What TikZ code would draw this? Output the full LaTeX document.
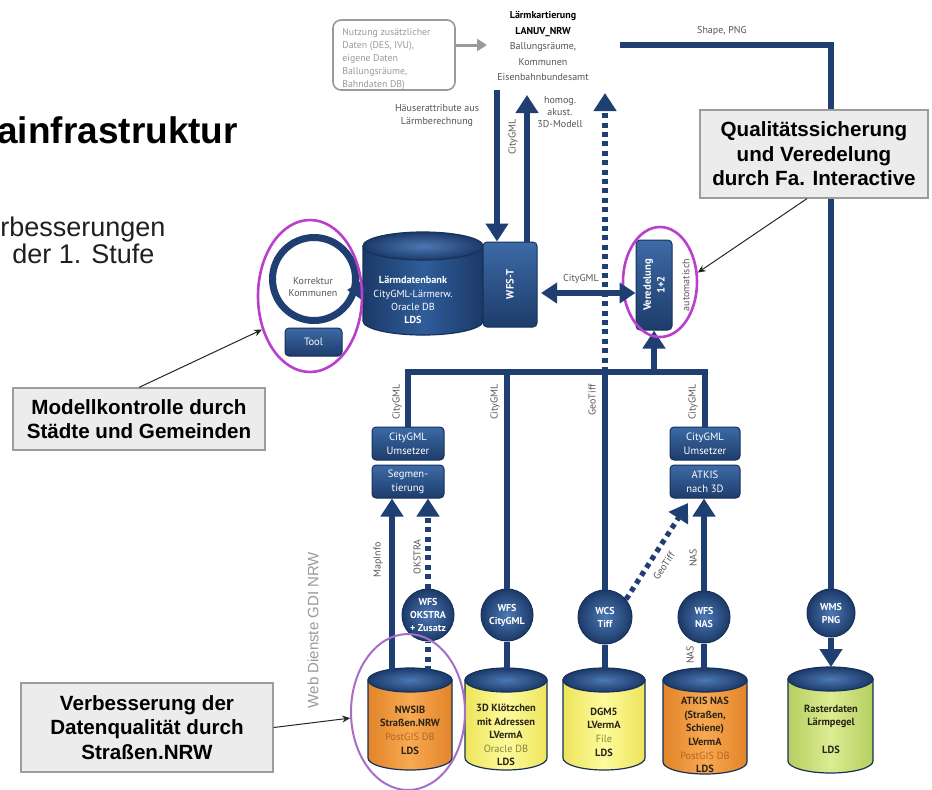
\documentclass[tikz,border=0pt]{standalone}
\usepackage{fontspec}
\setmainfont{Liberation Sans}
\newfontfamily\dfont{PT Sans}
\usetikzlibrary{arrows.meta,shapes.geometric}
\definecolor{lineblue}{HTML}{1F3F73}
\definecolor{boxtop}{HTML}{3D6AA6}
\definecolor{boxbot}{HTML}{1D3C6B}
\definecolor{boxline}{HTML}{17315A}
\definecolor{discin}{HTML}{4C78B4}
\definecolor{discout}{HTML}{1C3A69}
\definecolor{magC}{HTML}{B93FCC}
\definecolor{magL}{HTML}{A56FC6}
\definecolor{callfill}{HTML}{ECECEC}
\definecolor{callline}{HTML}{9C9C9C}
\definecolor{lblgrey}{HTML}{555555}
\definecolor{lightgrey}{HTML}{9A9A9A}
\definecolor{orS}{HTML}{E2842A}
\definecolor{orM}{HTML}{F8A951}
\definecolor{yeS}{HTML}{EDE45A}
\definecolor{yeM}{HTML}{FDFB9E}
\definecolor{grS}{HTML}{B5CE60}
\definecolor{grM}{HTML}{DCEC92}
\definecolor{dbS}{HTML}{1C3967}
\definecolor{dbM}{HTML}{2F5D9A}
\definecolor{postgis}{HTML}{B5661F}
\definecolor{olivec}{HTML}{85853A}
\definecolor{cyltext}{HTML}{2A2418}
\newcommand\dbcyl[7]{%
  \path[left color=#6, right color=#6, middle color=#7, draw=boxline, line width=0.6pt]
    (#1-#4,#2+#5) -- (#1-#4,#3-#5) arc[start angle=180,end angle=0,x radius=#4,y radius=#5] -- (#1+#4,#2+#5) -- cycle;
  \path[inner color=discin, outer color=discout, draw=boxline, line width=0.6pt]
    (#1,#2+#5) ellipse[x radius=#4, y radius=#5];
}
\begin{document}
\begin{tikzpicture}[x=0.5pt,y=-0.5pt,
  bl/.style={draw=lineblue, line width=2.6pt},
  dotl/.style={draw=lineblue, line width=2.6pt, dash pattern=on 2.5pt off 2.2pt},
  bigtip/.style={-{Triangle[width=11pt,length=9pt]}},
  bbox/.style={rounded corners=2pt, top color=boxtop, bottom color=boxbot, draw=boxline, line width=0.5pt, text=white, inner sep=0pt, align=center, font=\dfont\fontsize{5.3}{7}\selectfont},
  disc/.style={circle, inner color=discin, outer color=discout, draw=boxline, line width=0.5pt, text=white, inner sep=0pt, align=center, font=\dfont\bfseries\fontsize{5}{6.5}\selectfont},
  callout/.style={draw=callline, fill=callfill, line width=0.6pt, align=center, inner sep=0pt, font=\bfseries\fontsize{10.3}{12.2}\selectfont},
  callarrow/.style={draw=black!85, line width=0.5pt, -{Stealth[length=4pt,width=3.5pt]}},
  lbl/.style={font=\dfont\fontsize{5}{6}\selectfont, text=lblgrey, inner sep=0pt},
  rlbl/.style={lbl, rotate=90},
  cyltxt/.style={font=\dfont\bfseries\fontsize{5.2}{6.8}\selectfont, text=cyltext, align=center, inner sep=0pt},
  magring/.style={ellipse, draw=magC, line width=1.3pt, inner sep=0pt}
]
\useasboundingbox (0,0) rectangle (932,789);
\fill[white] (0,0) rectangle (932,789);

% slide text
\node[anchor=base west, inner sep=0, font=\bfseries\fontsize{18.5}{22}\selectfont] (title) at (-3,143) {ainfrastruktur};
\node[anchor=base west, inner sep=0, text=black!88, font=\fontsize{13.5}{16}\selectfont] (sub1) at (0,236) {rbesserungen};
\node[anchor=base west, inner sep=0, text=black!88, font=\fontsize{13.5}{16}\selectfont] (sub2) at (12,263) {der 1. Stufe};

% top grey box
\node[draw=lightgrey, line width=0.8pt, rounded corners=4pt, minimum width=61pt, minimum height=35pt, inner sep=0] (greybox) at (394,55) {};
\node[anchor=west, align=left, inner sep=0, text=lightgrey, font=\dfont\fontsize{4.9}{6.5}\selectfont] (greytxt) at (342,59) {Nutzung zusätzlicher\\Daten (DES, IVU),\\eigene Daten\\Ballungsräume,\\Bahndaten DB)};
\coordinate (kartL) at (487,45);
\draw[draw=lightgrey, line width=1.5pt, -{Triangle[width=6pt,length=5pt]}] ([yshift=5pt]greybox.east) -- (kartL);

% Laermkartierung
\node[font=\dfont\fontsize{5}{7.75}\selectfont, align=center, text=lblgrey, inner sep=0] (kart) at (543,46) {\textbf{\color{black}Lärmkartierung}\\\textbf{\color{black}LANUV\_NRW}\\Ballungsräume,\\Kommunen\\Eisenbahnbundesamt};

% Shape, PNG line and WMS
\coordinate (shapeL) at (620,45);
\coordinate (shapeC) at (831,45);
\node[lbl] (shapelbl) at (722,31) {Shape, PNG};
\node[disc, minimum size=24pt] (wms) at (831,613) {WMS\\PNG};
\draw[bl] (shapeL) -- (shapeC) -- (wms.north);

% Laermdatenbank
\dbcyl{423}{232}{335}{60}{14}{dbS}{dbM}
\node[font=\dfont\fontsize{5.1}{6.6}\selectfont, text=white, align=center, inner sep=0] (ldb) at (413,300) {\textbf{Lärmdatenbank}\\CityGML-Lärmerw.\\Oracle DB\\\textbf{LDS}};

% WFS-T
\node[bbox, minimum width=27pt, minimum height=42.5pt] (wfst) at (510,284.5) {};
\node[rotate=90, text=white, font=\dfont\bfseries\fontsize{5.3}{6}\selectfont, inner sep=0] (wfstT) at (wfst.center) {WFS-T};

% Korrektur ring
\node[circle, draw=lineblue, line width=3.5pt, minimum size=41.5pt, inner sep=0] (ring) at (314,279) {};
\node[align=center, inner sep=0, text=lblgrey, font=\dfont\fontsize{5}{6.3}\selectfont] (ringT) at (313,287) {Korrektur\\Kommunen};
\coordinate (ldbW) at (366,290);
\coordinate (ringE) at (347,290);
\draw[bl, -{Triangle[width=10pt,length=8pt]}] (ldbW) -- (ringE);
\node[bbox, minimum width=28.5pt, minimum height=14pt] (tool) at (313.5,342) {Tool};
\node[magring, minimum width=52pt, minimum height=76pt] (mag1) at (310,296) {};

% arrows between Laermkartierung and WFS-T
\coordinate (kartB) at (497,90);
\draw[bl,bigtip] (kartB) -- (kartB |- wfst.north);
\coordinate (upT) at (527,95);
\draw[bl,bigtip] (upT |- wfst.north) -- (upT);
\node[rlbl] (cgml0) at (513,137) {CityGML};
\node[lbl, align=center, font=\dfont\fontsize{5}{6.5}\selectfont] (haeuser) at (437,116) {Häuserattribute aus\\Lärmberechnung};
\node[lbl, align=center] (homog) at (560,112) {homog.\\akust.\\3D-Modell};

% Veredelung
\node[bbox, minimum width=18pt, minimum height=45pt] (vered) at (654,285) {};
\node[rotate=90, text=white, font=\dfont\bfseries\fontsize{5.3}{6.8}\selectfont, align=center, inner sep=0] (veredT) at (vered.center) {Veredelung\\1+2};
\node[rlbl] (autom) at (686,285) {automatisch};

% converter boxes
\node[bbox, minimum width=36pt, minimum height=16.5pt] (cu1) at (408,443.5) {CityGML\\Umsetzer};
\node[bbox, minimum width=36pt, minimum height=16.5pt] (seg) at (408,481.5) {Segmen-\\tierung};
\node[bbox, minimum width=35pt, minimum height=16.5pt] (cu2) at (705,443.5) {CityGML\\Umsetzer};
\node[bbox, minimum width=35pt, minimum height=16.5pt] (atk3d) at (705,481.5) {ATKIS\\nach 3D};

% bus
\coordinate (busL) at (408,372);
\coordinate (busR) at (705,372);
\coordinate (busV) at (654,372);
\coordinate (busD) at (605,372);
\draw[bl, line width=3pt] (cu1.north) -- (busL) -- (busR) -- (cu2.north);
\draw[bl,bigtip] (busV) -- (busV |- vered.south);
\node[magring, minimum width=37pt, minimum height=55pt] (mag2) at (660,282) {};

% double arrow
\coordinate (dblL) at (541,293);
\draw[bl, {Triangle[width=10pt,length=8pt]}-{Triangle[width=10pt,length=8pt]}] (dblL) -- (dblL -| vered.west);
\node[lbl] (cgmlD) at (581,279) {CityGML};

% dotted 3D model
\coordinate (dotT) at (605,93);
\draw[dotl,bigtip] (busD) -- (dotT);

% service discs
\node[disc, minimum size=26pt] (wfsok) at (428,615) {WFS\\OKSTRA\\+ Zusatz};
\node[disc, minimum size=26pt] (wfscg) at (507,615) {WFS\\CityGML};
\node[disc, minimum size=27pt] (wcs) at (605,617) {WCS\\Tiff};
\node[disc, minimum size=26pt] (wfsnas) at (704,617) {WFS\\NAS};
\draw[bl] (wfscg.north) -- (wfscg.north |- busL);
\draw[bl] (wcs.north) -- (busD);
\node[rlbl] (lb1) at (397,402) {CityGML};
\node[rlbl] (lb2) at (495,402) {CityGML};
\node[rlbl] (lb3) at (592,400) {GeoTiff};
\node[rlbl] (lb4) at (693,402) {CityGML};

% cylinders
\dbcyl{410}{668}{770}{42}{12}{orS}{orM}
\dbcyl{506}{668}{770}{41}{12}{yeS}{yeM}
\dbcyl{604}{668}{770}{41}{12}{yeS}{yeM}
\dbcyl{705}{668}{774}{42}{12}{orS}{orM}
\dbcyl{830.5}{667}{773}{42.5}{12}{grS}{grM}
\coordinate (cylTop) at (0,671);
\coordinate (rasT) at (0,667);

\node[cyltxt] (nwsib) at (410,730) {NWSIB\\Straßen.NRW\\\mdseries\color{postgis}PostGIS DB\\LDS};
\node[cyltxt] (kloetz) at (506,735) {3D Klötzchen\\mit Adressen\\LVermA\\\mdseries\color{olivec}Oracle DB\\LDS};
\node[cyltxt] (dgm) at (604,732) {DGM5\\LVermA\\\mdseries\color{olivec}File\\LDS};
\node[cyltxt] (atkis) at (705,735) {ATKIS NAS\\(Straßen,\\Schiene)\\LVermA\\\mdseries\color{postgis}PostGIS DB\\LDS};
\node[cyltxt] (raster) at (831,729) {Rasterdaten\\Lärmpegel\\[6.8pt]LDS};

% links from data sources
\coordinate (mapB) at (392,672);
\draw[bl,bigtip] (mapB) -- (mapB |- seg.south);
\node[rlbl] (mapinfo) at (378,560) {MapInfo};
\draw[dotl] (wfsok.south |- cylTop) -- (wfsok.south);
\draw[dotl,bigtip] (wfsok.north) -- (wfsok.north |- seg.south);
\node[rlbl] (okstra) at (417,557) {OKSTRA};
\draw[bl] (wfscg.south) -- (wfscg.south |- cylTop);
\draw[bl] (wcs.south) -- (wcs.south |- cylTop);
\draw[bl] (wfsnas.south) -- (wfsnas.south |- cylTop);
\node[rlbl] (nas2) at (690,655) {NAS};
\draw[bl,bigtip] (wfsnas.north) -- (wfsnas.north |- atk3d.south);
\node[rlbl] (nas1) at (693,558) {NAS};
\coordinate (diagT) at (688,503);
\draw[dotl,bigtip] (wcs.40) -- (diagT);
\node[lbl, rotate=57] (geotiff2) at (664,566) {GeoTiff};
\draw[bl,bigtip] (wms.south) -- (wms.south |- rasT);

\node[magring, draw=magL, line width=1pt, minimum width=57pt, minimum height=78pt] (mag3) at (408,712) {};

% Web Dienste
\node[rotate=90, text=lightgrey, font=\fontsize{7.5}{8}\selectfont, inner sep=0] (webd) at (313,630) {Web Dienste GDI NRW};

% callouts
\node[callout, minimum width=126pt, minimum height=31pt] (mk) at (139,419) {Modellkontrolle durch\\Städte und Gemeinden};
\draw[callarrow] (mk.north) -- (mag1.215);
\node[callout, minimum width=114pt, minimum height=44pt] (qs) at (814,154) {Qualitätssicherung\\und Veredelung\\durch Fa. Interactive};
\draw[callarrow] ([xshift=-3.5pt]qs.south) -- (mag2.14);
\node[callout, minimum width=126pt, minimum height=44.5pt] (vb) at (147,727.5) {Verbesserung der\\Datenqualität durch\\Straßen.NRW};
\draw[callarrow] (vb.east) -- (mag3.186);
\end{tikzpicture}
\end{document}
